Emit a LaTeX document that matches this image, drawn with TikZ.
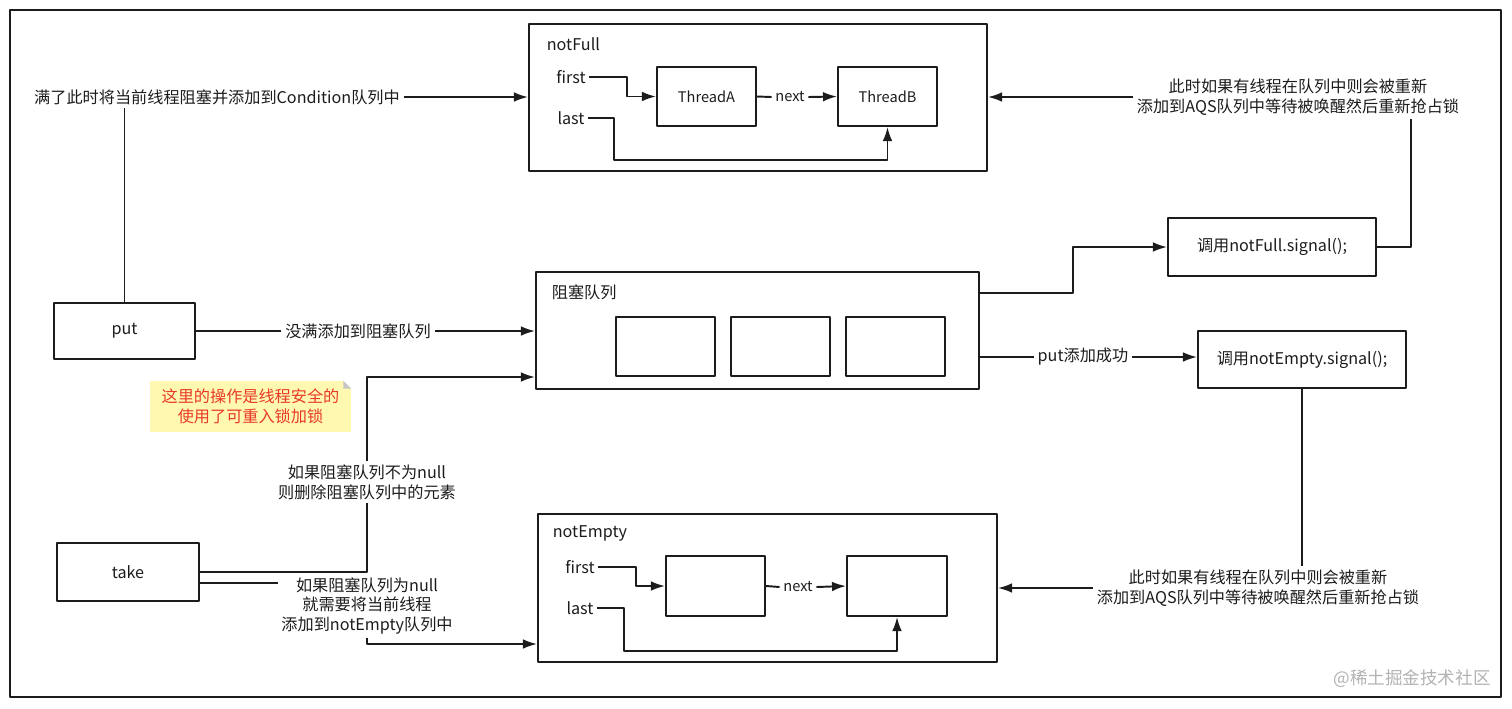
\documentclass[tikz,border=0pt]{standalone}
\usepackage{fontspec}
\setmainfont{Noto Sans CJK SC}
\usetikzlibrary{arrows.meta,calc}
\definecolor{ink}{HTML}{1C1C1C}
\definecolor{notey}{HTML}{FFF8B0}
\definecolor{notered}{HTML}{E8392A}
\tikzset{
  box/.style 2 args={draw=ink,line width=1.1pt,minimum width=#1*0.02cm,minimum height=#2*0.02cm},
  txt/.style={text=ink,font=\fontsize{9.2}{11.3}\selectfont,align=center,inner sep=2pt},
  small/.style={txt,font=\fontsize{8.3}{9}\selectfont},
  ln/.style={draw=ink,line width=1.1pt},
  arr/.style={ln,-{Latex[length=8pt,width=5.5pt]}},
}
\begin{document}
\begin{tikzpicture}[x=0.02cm,y=-0.02cm,line join=round]
  \useasboundingbox (0,0) rectangle (1512,708);
  \draw[ln] (10,10) rectangle (1501,697);
  % notFull
  \node[box={458}{147}] (nf) at (758,97.5) {};
  \node[txt,anchor=west] (nfT) at (543,44) {notFull};
  \node[txt] (nfF) at (571,77) {first};
  \node[txt] (nfL) at (571,118) {last};
  \node[box={99}{59},small] (tA) at (706.5,96.5) {ThreadA};
  \node[box={99}{59},small] (tB) at (887.5,96.5) {ThreadB};
  \node[small] (nx1) at (790,97) {next};
  \draw[arr] (nfF.east) -- (627,77) |- (tA.west);
  \draw[arr] (nfL.east) -- (614,118) -- (614,160) -| (tB.south);
  \draw[ln] (tA.east) -- (nx1.west);
  \draw[arr] (nx1.east) -- (tB.west);
  % blocking queue
  \node[box={443}{117}] (blk) at (757.5,330.5) {};
  \node[txt,anchor=west] (blkT) at (548,292) {阻塞队列};
  \foreach \x [count=\i] in {665.5,780.5,895.5}
    \node[box={99}{59}] (q\i) at (\x,346.5) {};
  % notEmpty
  \node[box={459}{148}] (ne) at (767.5,588) {};
  \node[txt,anchor=west] (neT) at (549,533) {notEmpty};
  \node[txt] (neF) at (580,567) {first};
  \node[txt] (neL) at (580,608) {last};
  \node[box={99}{60}] (e1) at (715.5,586) {};
  \node[box={100}{60}] (e2) at (897,586) {};
  \node[small] (nx2) at (798,587) {next};
  \draw[arr] (neF.east) -- (636,567) |- (e1.west);
  \draw[arr] (neL.east) -- (624,608) -- (624,651) -| (e2.south);
  \draw[ln] (e1.east) -- (nx2.west);
  \draw[arr] (nx2.east) -- (e2.west);
  % put
  \node[box={141}{56},txt] (put) at (124.5,331) {put};
  \node[txt] (full) at (217,97) {满了此时将当前线程阻塞并添加到Condition队列中};
  \draw[ln] (put.north) -- (put.north |- full.south);
  \draw[arr] (full.east) -- (nf.west |- full);
  \node[txt] (pl) at (358,331) {没满添加到阻塞队列};
  \draw[ln] (put.east) -- (pl.west);
  \draw[arr] (pl.east) -- (blk.west |- pl);
  % take
  \node[box={142}{58},txt] (take) at (128,572) {take};
  \node[txt] (tk1) at (367,482) {如果阻塞队列不为null\\则删除阻塞队列中的元素};
  \draw[ln] (take.east) -| (tk1.south);
  \draw[arr] (tk1.north) |- ($(blk.west)+(0,46.5)$);
  \node[txt] (tk2) at (367,606) {如果阻塞队列为null\\就需要将当前线程\\添加到notEmpty队列中};
  \draw[ln] ($(take.east)+(0,11)$) -- ($(tk2.west)+(0,-23)$);
  \draw[arr] (tk2.south) |- ($(ne.west)+(0,56)$);
  % signals
  \node[box={208}{58},txt] (sigF) at (1272,247) {调用notFull.signal();};
  \node[box={208}{57},txt] (sigE) at (1302,359.5) {调用notEmpty.signal();};
  \draw[arr] ($(blk.east)+(0,-37.5)$) -- (1073,293) |- (sigF.west);
  \node[txt] (ok) at (1083,357) {put添加成功};
  \draw[ln] (blk.east |- ok) -- (ok.west);
  \draw[arr] (ok.east) -- (sigE.west |- ok);
  \node[txt] (rt1) at (1298,97) {此时如果有线程在队列中则会被重新\\添加到AQS队列中等待被唤醒然后重新抢占锁};
  \draw[ln] (sigF.east) -| ($(rt1.south)+(113,0)$);
  \draw[arr] (rt1.west) -- (nf.east |- rt1);
  \node[txt] (rt2) at (1258,588) {此时如果有线程在队列中则会被重新\\添加到AQS队列中等待被唤醒然后重新抢占锁};
  \draw[ln] (sigE.south) -- (sigE.south |- rt2.north);
  \draw[arr] (rt2.west) -- (ne.east |- rt2);
  % note
  \node[fill=notey,minimum width=201*0.02cm,minimum height=51*0.02cm,txt,text=notered] (note) at (250.5,406.5) {这里的操作是线程安全的\\使用了可重入锁加锁};
  \fill[white] (note.north east) -- ++(-8,0) -- ++(8,8) -- cycle;
  \fill[gray!45] ($(note.north east)+(-8,0)$) -- ++(8,8) -- ++(-8,0) -- cycle;
  \node[text=gray!60,font=\fontsize{10}{12}\selectfont] (wm) at (1412,679) {@稀土掘金技术社区};
\end{tikzpicture}
\end{document}
